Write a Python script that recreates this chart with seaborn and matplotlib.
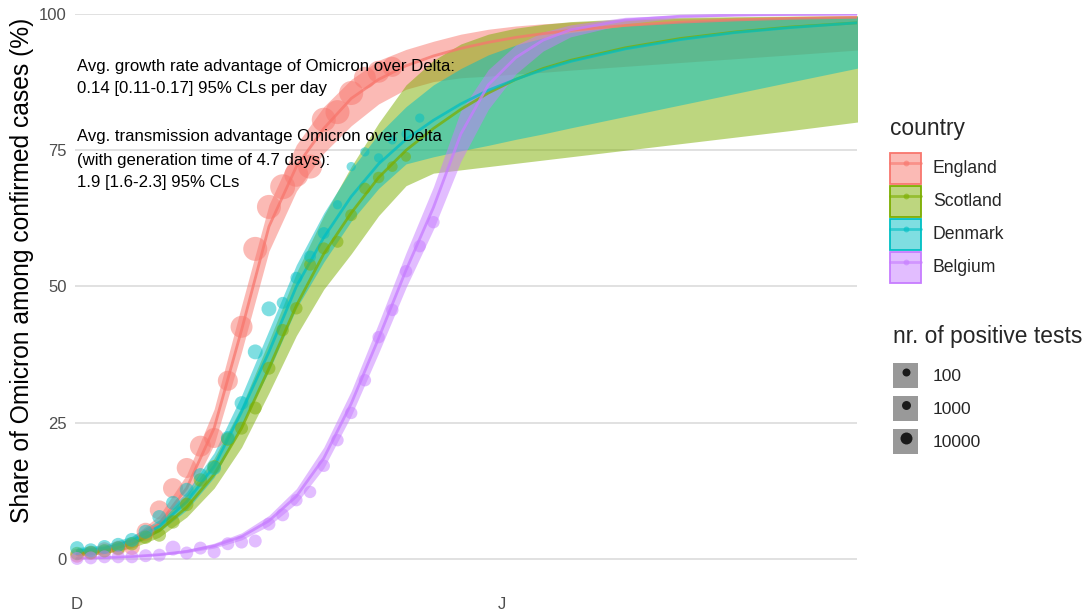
import numpy as np
import pandas as pd
import matplotlib
matplotlib.use("Agg")
import matplotlib.pyplot as plt
from matplotlib.patches import Patch
from matplotlib.lines import Line2D
from matplotlib.legend_handler import HandlerTuple
from matplotlib.colors import to_rgba
import seaborn as sns

sns.set_theme(style="white")
plt.rcParams["font.family"] = ["Liberation Sans", "DejaVu Sans"]

countries = ["England", "Scotland", "Denmark", "Belgium"]
colors = {"England": "#F8766D", "Scotland": "#7CAE00",
          "Denmark": "#00BFC4", "Belgium": "#C77CFF"}
start = pd.Timestamp("2021-12-01")

# ---- fitted Omicron share (%) with 95% bands, at day offsets from 1 Dec ----
fit_days = [0, 2, 4, 6, 8, 10, 12, 14, 16, 18, 20, 22, 24, 26, 28, 30, 32, 34, 36,
            40, 44, 48, 52, 57]

england_mid = [0.8, 1.5, 3.0, 6.5, 13, 24, 42, 61, 72, 79, 84.5, 88, 90.5, 92.3, 93.7,
               94.8, 95.7, 96.4, 97.0, 97.9, 98.5, 98.9, 99.2, 99.4]
england_lo = [0.4, 1.0, 2.2, 5.2, 11, 21, 38, 56.5, 67.5, 74.5, 79.5, 83.5, 86.2, 87.6,
              88.3, 88.6, 89.0, 89.3, 89.7, 90.4, 91.1, 91.8, 92.5, 93.4]
england_hi = [1.4, 2.2, 4.0, 8.0, 15.5, 27.5, 46.5, 65, 76, 83, 88, 91.5, 93.5, 95,
              96.3, 97.2, 97.8, 98.2, 98.5, 98.9, 99.2, 99.4, 99.5, 99.6]

scotland_mid = [1.0, 1.5, 2.8, 5.2, 9.5, 15.5, 24, 35, 46.5, 56, 63.5, 70, 75, 79,
                82.5, 85.5, 88, 90, 91.5, 93.8, 95.5, 96.7, 97.6, 98.4]
scotland_lo = [0.6, 1.0, 2.0, 4.0, 7.7, 13, 20.5, 30.5, 41, 49.5, 56, 63, 68.5, 70.8,
               71.4, 72.0, 72.6, 73.2, 73.8, 75.0, 76.2, 77.4, 78.6, 80.2]
scotland_hi = [1.6, 2.2, 3.8, 6.8, 11.8, 18.5, 28, 40, 52.5, 63, 72, 80, 87, 91.5,
               94.5, 96.3, 97.4, 98.1, 98.6, 99.1, 99.4, 99.5, 99.6, 99.7]

denmark_mid = [1.5, 2.0, 3.3, 6.0, 10.5, 17, 27, 38, 50, 59, 66.5, 72.5, 77, 80.5,
               83.5, 86, 88, 89.8, 91.3, 93.6, 95.3, 96.6, 97.5, 98.4]
denmark_lo = [1.0, 1.5, 2.6, 5.0, 9.0, 15, 24.5, 34.5, 46, 54.5, 62, 68, 72.5, 73.8,
              74.9, 75.9, 77.0, 78.0, 79.1, 81.2, 83.3, 85.4, 87.5, 90.1]
denmark_hi = [2.1, 2.6, 4.2, 7.2, 12.3, 19.5, 30, 42, 54, 63.5, 71.5, 78, 83, 87, 90,
              92.5, 94.3, 95.6, 96.6, 97.8, 98.6, 99.0, 99.3, 99.5]

belgium_mid = [0.15, 0.25, 0.45, 0.8, 1.4, 2.4, 4.1, 7.0, 11.5, 18.5, 28.5, 40.5, 53,
               64.5, 78, 87, 92, 95.2, 97.1, 98.9, 99.6, 99.8, 99.9, 99.95]
belgium_lo = [0.1, 0.18, 0.35, 0.65, 1.15, 2.0, 3.5, 6.1, 10.2, 16.7, 26.3, 37.8, 49.8,
              60.5, 73, 82.5, 89, 93.2, 95.8, 98.2, 99.3, 99.65, 99.8, 99.9]
belgium_hi = [0.22, 0.35, 0.6, 1.0, 1.7, 2.9, 4.8, 8.0, 12.9, 20.5, 30.8, 43.3, 56.2,
              68.3, 82.3, 89.8, 94.3, 96.7, 98.0, 99.4, 99.8, 99.9, 99.95, 99.98]

# ---- observed daily Omicron share (%) and number of positive tests ----
england_pct = [0.6, 1.1, 1.7, 2.0, 2.2, 5.0, 9.0, 13.0, 16.7, 20.7, 22.2, 32.7, 42.6,
               56.9, 64.6, 68.3, 70.5, 72.0, 80.6, 82.0, 85.5, 88.3, 89.4, 90.3]
england_n = [21000, 21000, 28000, 28000, 37000, 56000, 68000, 80000, 80000, 93000,
             80000, 80000, 107000, 140000, 140000, 157000, 140000, 140000, 140000,
             140000, 140000, 107000, 107000, 80000]

scotland_pct = [1.0, 1.2, 1.5, 2.0, 2.8, 4.0, 4.4, 6.8, 10.0, 14.5, 16.9, 22.0, 24.0,
                27.7, 35.0, 42.0, 46.0, 54.0, 57.0, 58.2, 63.1, 68.0, 70.0, 72.0, 73.8]
scotland_n = [18000, 18000, 18000, 18000, 18000, 18000, 18000, 18000, 18000, 18000,
              18000, 18000, 15000, 15000, 15000, 12000, 12000, 10000, 10000, 10000,
              10000, 8000, 8000, 5000, 3000]

denmark_pct = [2.0, 1.6, 2.2, 2.6, 3.5, 5.0, 7.7, 10.3, 12.7, 15.4, 16.7, 22.2, 28.6,
               38.0, 45.9, 47.0, 51.6, 55.5, 59.8, 65.0, 72.0, 74.7, 73.6, 76.9, 78.0,
               80.9]
denmark_n = [21000, 21000, 21000, 21000, 21000, 21000, 21000, 21000, 21000, 21000,
             21000, 21000, 21000, 28000, 28000, 10000, 10000, 10000, 10000, 1500, 1500,
             1500, 1500, 1500, 1500, 1500]

belgium_pct = [0.1, 0.2, 0.4, 0.4, 0.4, 0.6, 0.7, 2.0, 1.1, 2.0, 1.3, 2.8, 3.1, 3.3,
               6.4, 8.1, 10.8, 12.3, 17.1, 21.8, 26.8, 32.8, 40.7, 45.7, 52.8, 57.4,
               61.8]
belgium_n = [15000, 15000, 15000, 15000, 15000, 15000, 15000, 28000, 15000, 15000,
             15000, 15000, 15000, 15000, 15000, 15000, 12000, 12000, 12000, 12000,
             12000, 12000, 12000, 12000, 12000, 12000, 12000]

fits = {"England": (england_mid, england_lo, england_hi),
        "Scotland": (scotland_mid, scotland_lo, scotland_hi),
        "Denmark": (denmark_mid, denmark_lo, denmark_hi),
        "Belgium": (belgium_mid, belgium_lo, belgium_hi)}
obs = {"England": (england_pct, england_n),
       "Scotland": (scotland_pct, scotland_n),
       "Denmark": (denmark_pct, denmark_n),
       "Belgium": (belgium_pct, belgium_n)}

fit_dates = start + pd.to_timedelta(fit_days, unit="D")
fit_df = pd.concat([
    pd.DataFrame({"country": c, "date": fit_dates, "mid": m, "lo": l, "hi": h})
    for c, (m, l, h) in fits.items()], ignore_index=True)
obs_df = pd.concat([
    pd.DataFrame({"country": c, "date": start + pd.to_timedelta(np.arange(len(p)), unit="D"),
                  "pct": p, "n": n})
    for c, (p, n) in obs.items()], ignore_index=True)


def marker_diameter_px(n):
    # point diameter grows linearly with sqrt(count)
    return 7.56 + 0.044 * np.sqrt(n)


def marker_area(n):
    return (marker_diameter_px(n) * 0.72) ** 2


size_map = {v: marker_area(v) for v in sorted(obs_df["n"].unique())}

W, H = 1086, 615
fig = plt.figure(figsize=(W / 100, H / 100), dpi=100)
ax = fig.add_axes([75 / W, 1 - 587 / H, (857 - 75) / W, (587 - 14) / H])

# confidence ribbons
for c in countries:
    d = fit_df[fit_df["country"] == c]
    ax.fill_between(d["date"], d["lo"], d["hi"], color=colors[c], alpha=0.5,
                    linewidth=0, zorder=1)

# fitted lines
sns.lineplot(data=fit_df, x="date", y="mid", hue="country", hue_order=countries,
             palette=colors, estimator=None, sort=False, linewidth=2.0, alpha=0.75,
             legend=False, ax=ax, zorder=2)

# observed shares
sns.scatterplot(data=obs_df, x="date", y="pct", hue="country", hue_order=countries,
                palette=colors, size="n", sizes=size_map, alpha=0.5, linewidth=0,
                legend=False, ax=ax, zorder=3, clip_on=False)

ax.set_xlim(start - pd.Timedelta(days=0.15), start + pd.Timedelta(days=56.9))
ax.set_ylim(-5.14, 100)
ax.set_yticks([0, 25, 50, 75, 100])
ax.set_yticklabels(["0", "25", "50", "75", "100"])
ax.set_xticks([pd.Timestamp("2021-12-01"), pd.Timestamp("2022-01-01")])
ax.set_xticklabels(["D", "J"])
ax.set_xlabel("")
ax.set_ylabel("")
ax.yaxis.grid(True, color="#D9D9D9", linewidth=1.1)
ax.xaxis.grid(False)
ax.set_axisbelow(True)
for s in ax.spines.values():
    s.set_visible(False)
ax.tick_params(axis="both", which="both", length=3.5, width=1.0, color="#333333",
               labelcolor="#4D4D4D", labelsize=12, pad=2.5)
ax.tick_params(axis="x", pad=4)

fig.text(22 / W, 1 - 270 / H, "Share of Omicron among confirmed cases (%)",
         rotation=90, ha="center", va="center", fontsize=17.7, color="black")

notes = [(66, "Avg. growth rate advantage of Omicron over Delta:"),
         (89, "0.14 [0.11-0.17] 95% CLs per day"),
         (137, "Avg. transmission advantage Omicron over Delta"),
         (160, "(with generation time of 4.7 days):"),
         (183, "1.9 [1.6-2.3] 95% CLs")]
for yp, t in notes:
    fig.text(77 / W, 1 - yp / H, t, ha="left", va="center", fontsize=12.1,
             color="black", zorder=10)


def handle_height(key_px, font_px):
    # legend handle height parameter giving a key of key_px pixels
    return (key_px / font_px - 0.245) / 0.65


# country legend
fs1 = 12.7
px1 = fs1 * 100 / 72
handles = []
for c in countries:
    handles.append((Patch(facecolor=to_rgba(colors[c], 0.5), edgecolor=colors[c],
                          linewidth=1.3),
                    Line2D([], [], color=colors[c], lw=2.0, alpha=0.6, marker="o",
                           markersize=4.2, markeredgewidth=0)))
fig.text(890 / W, 1 - 128 / H, "country", ha="left", va="center", fontsize=16.4)
fig.legend(handles, countries, handler_map={tuple: HandlerTuple(ndivide=1)},
           loc="upper left", bbox_to_anchor=(890 / W, 1 - 152.5 / H), frameon=False,
           borderpad=0, borderaxespad=0, fontsize=fs1, handlelength=31 / px1,
           handleheight=handle_height(31, px1), labelspacing=2 / px1,
           handletextpad=12 / px1)

# size legend
fs2 = 12.5
px2 = fs2 * 100 / 72
size_vals = [100, 1000, 10000]
size_handles = [(Patch(facecolor="#999999", edgecolor="none"),
                 Line2D([], [], linestyle="none", marker="o", color="#1A1A1A",
                        markersize=marker_diameter_px(v) * 0.72, markeredgewidth=0))
                for v in size_vals]
fig.text(893 / W, 1 - 336 / H, "nr. of positive tests", ha="left", va="center",
         fontsize=16.4)
fig.legend(size_handles, [str(v) for v in size_vals],
           handler_map={tuple: HandlerTuple(ndivide=1)},
           loc="upper left", bbox_to_anchor=(893 / W, 1 - 363 / H), frameon=False,
           borderpad=0, borderaxespad=0, fontsize=fs2, handlelength=25 / px2,
           handleheight=handle_height(25, px2), labelspacing=8 / px2,
           handletextpad=15 / px2)

fig.savefig("out.png", dpi=100, facecolor="white")
